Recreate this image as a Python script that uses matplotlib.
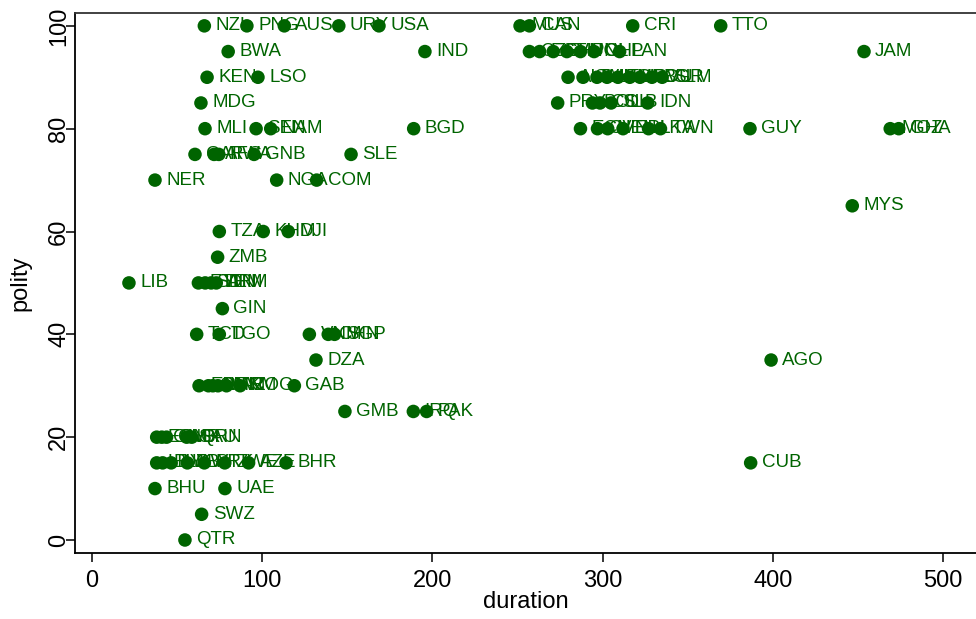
import matplotlib
matplotlib.use("Agg")
import matplotlib.pyplot as plt

codes = ["NZL", "PNG", "AUS", "URY", "USA", "MUS", "CAN", "CRI", "TTO",
         "BWA", "IND", "CZE", "EST", "SVN", "HUN", "POL", "CHL", "PAN", "JAM",
         "KEN", "LSO", "ALB", "SVK", "MNG", "LTU", "LVA", "HRV", "ROU", "BGR", "SLM",
         "MDG", "PRY", "BOL", "COL", "SLB", "IDN",
         "MLI", "SEN", "NAM", "BGD", "ECU", "CVE", "VEN", "NPL", "LKA", "TWN", "GUY", "MOZ", "GHA",
         "CAF", "AFG", "RWA", "GNB", "SLE",
         "NER", "NGA", "COM",
         "MYS",
         "TZA", "KHM", "DJI",
         "ZMB",
         "LIB", "ETH", "SDN", "YEM", "ARM",
         "GIN",
         "TCD", "TGO", "VNM", "CHN", "SGP",
         "DZA", "AGO",
         "ERI", "OMN", "MAR", "KAZ", "TKM", "COG", "GAB",
         "GMB", "IRQ", "PAK",
         "EGY", "GNQ", "CMR", "SAU", "BRN",
         "LBY", "BLR", "UZB", "KWT", "PRK", "ZWE", "AZE", "BHR", "CUB",
         "BHU", "UAE",
         "SWZ",
         "QTR"]

duration = [66, 91, 113, 145, 168.6, 251.5, 257, 317.7, 369.4,
            80, 195.6, 257, 263, 271, 279, 287, 295, 310, 453.6,
            67.6, 97.5, 279.7, 288.5, 296.7, 302.6, 309, 316, 322, 329, 335,
            64, 273.6, 294, 298.5, 305, 326.5,
            66.4, 96.4, 105, 189, 287, 297, 303, 312, 327, 334, 386.6, 469, 474,
            60.5, 71.7, 74.5, 95.2, 152.2,
            37, 108.5, 132,
            446.7,
            74.8, 100.6, 115.3,
            73.8,
            21.7, 62.5, 66.5, 70, 73,
            76.6,
            61.5, 74.8, 127.7, 138.8, 142.5,
            131.6, 399,
            62.9, 68.4, 71, 74, 79, 87, 118.9,
            148.6, 188.8, 196.6,
            38, 41, 43.8, 55.6, 58.6,
            38, 41.5, 46.5, 56, 66, 78, 92, 114, 387,
            37, 78.1,
            64.4,
            54.6]

polity = [100] * 9 + [95] * 10 + [90] * 11 + [85] * 6 + [80] * 13 + [75] * 5 + \
         [70] * 3 + [65] + [60] * 3 + [55] + [50] * 5 + [45] + [40] * 5 + [35] * 2 + \
         [30] * 7 + [25] * 3 + [20] * 5 + [15] * 9 + [10] * 2 + [5] + [0]

xticks = [0, 100, 200, 300, 400, 500]
yticks = [0, 20, 40, 60, 80, 100]

plt.rcParams['font.family'] = ['Liberation Sans', 'DejaVu Sans']
green = "#006400"

fig = plt.figure(figsize=(9.76, 6.19), dpi=100)
ax = fig.add_axes([75 / 976, 66 / 619, 901 / 976, 540 / 619])

ax.scatter(duration, polity, s=95, color=green, edgecolors='none', zorder=3, clip_on=False)
for c, xv, yv in zip(codes, duration, polity):
    ax.annotate(c, (xv, yv), xytext=(8, 0), textcoords='offset points',
                va='center', ha='left', color=green, fontsize=13.5, zorder=4,
                annotation_clip=False)

ax.set_xlim(-10, 519.4)
ax.set_ylim(-2.53, 102.5)
ax.set_xticks(xticks)
ax.set_yticks(yticks)
ax.tick_params(axis='both', direction='out', length=6.5, width=1.1, labelsize=17)
ax.tick_params(axis='x', pad=6)
ax.tick_params(axis='y', labelrotation=90, pad=-3)
for lab in ax.get_yticklabels():
    lab.set_va('center')
ax.set_xlabel("duration", fontsize=17, labelpad=-1)
ax.set_ylabel("polity", fontsize=17, labelpad=12)
ax.spines['right'].set_visible(False)
for s in ['left', 'bottom', 'top']:
    ax.spines[s].set_linewidth(1.3)
ax.spines['top'].set_color('#333333')

fig.savefig("out.png", dpi=100)
